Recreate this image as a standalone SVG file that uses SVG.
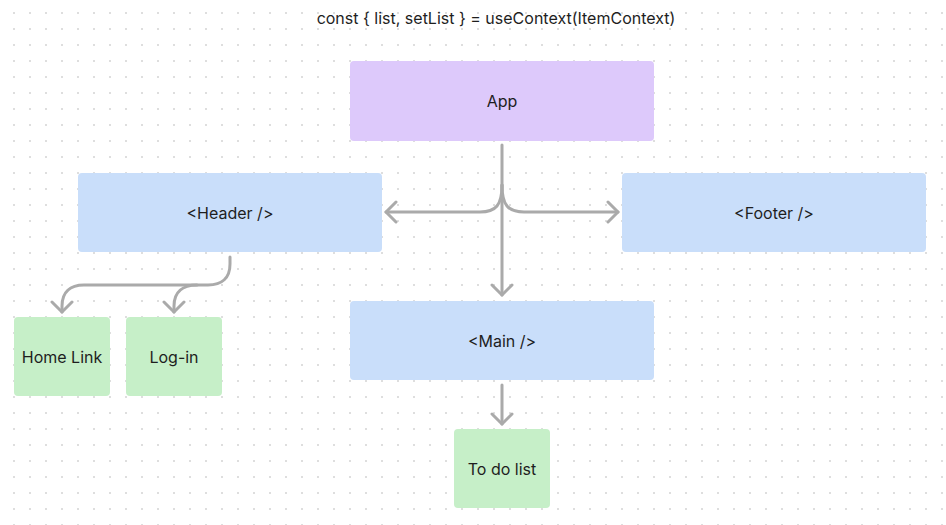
<svg xmlns="http://www.w3.org/2000/svg" width="946" height="525" viewBox="0 0 946 525">
<defs>
<pattern id="dots" x="13" y="12" width="16" height="16" patternUnits="userSpaceOnUse">
<rect x="0" y="0" width="2" height="2" fill="#dedede"/>
</pattern>
<marker id="ah" viewBox="-12 -12 24 24" markerWidth="24" markerHeight="24" refX="0" refY="0" orient="auto" markerUnits="userSpaceOnUse">
<path d="M-10 -10 L0 0 L-10 10" fill="none" stroke="#aaaaaa" stroke-width="3" stroke-linecap="round" stroke-linejoin="round"/>
</marker>
<style>
.t{font-family:Inter,"Liberation Sans",sans-serif;font-size:16px;fill:#1e1e1e;text-anchor:middle;dominant-baseline:central}
.c{fill:none;stroke:#aaaaaa;stroke-width:3;stroke-linecap:round}
.blue{fill:#c9defa}
.green{fill:#c6efc8}
.purple{fill:#ddc9fb}
</style>
</defs>
<rect width="946" height="525" fill="#ffffff"/>
<rect width="946" height="525" fill="url(#dots)"/>
<text class="t" x="496" y="18">const { list, setList } = useContext(ItemContext)</text>
<g id="connectors">
<path class="c" d="M502 145 L502 295" marker-end="url(#ah)"/>
<path class="c" d="M502 185 C502 205 496 212 480 212 L386 212" marker-end="url(#ah)"/>
<path class="c" d="M502 185 C502 205 508 212 524 212 L618 212" marker-end="url(#ah)"/>
<path class="c" d="M230 257 L230 264 C230 278 222 285 208 285 L84 285 C70 285 62 292 62 306 L62 312" marker-end="url(#ah)"/>
<path class="c" d="M197 285 C183 285 174 292 174 306 L174 312" marker-end="url(#ah)"/>
<path class="c" d="M502 385 L502 424" marker-end="url(#ah)"/>
</g>
<g id="app"><rect class="purple" x="350" y="61" width="304" height="80" rx="4"/><text class="t" x="502" y="101">App</text></g>
<g id="header"><rect class="blue" x="78" y="173" width="304" height="79" rx="4"/><text class="t" x="230" y="213">&lt;Header /&gt;</text></g>
<g id="footer"><rect class="blue" x="622" y="173" width="304" height="79" rx="4"/><text class="t" x="774" y="213">&lt;Footer /&gt;</text></g>
<g id="main"><rect class="blue" x="350" y="301" width="304" height="79" rx="4"/><text class="t" x="502" y="341">&lt;Main /&gt;</text></g>
<g id="homelink"><rect class="green" x="14" y="317" width="96" height="79" rx="4"/><text class="t" x="62" y="357">Home Link</text></g>
<g id="login"><rect class="green" x="126" y="317" width="96" height="79" rx="4"/><text class="t" x="174" y="357">Log-in</text></g>
<g id="todolist"><rect class="green" x="454" y="429" width="96" height="79" rx="4"/><text class="t" x="502" y="469">To do list</text></g>
</svg>
